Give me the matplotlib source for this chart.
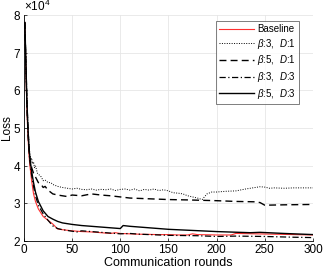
import matplotlib
matplotlib.use('agg')
import matplotlib.pyplot as plt
from matplotlib.ticker import ScalarFormatter

plt.rcParams['font.family'] = ['Liberation Sans', 'DejaVu Sans']
plt.rcParams['mathtext.fontset'] = 'custom'
plt.rcParams['mathtext.it'] = 'Liberation Sans:italic'
plt.rcParams['mathtext.rm'] = 'Liberation Sans'

# loss values in units of 1e4
base_r = [1, 2, 3, 4, 5, 6, 8, 10, 12, 15, 20, 25, 30, 35, 40, 50, 60, 70, 80, 90, 95, 100,
          110, 120, 140, 150, 160, 170, 175, 180, 200, 215, 220, 240, 260, 280, 300]
base_v = [7.8, 6.6, 5.6, 4.9, 4.4, 4.05, 3.6, 3.25, 3.05, 2.85, 2.65, 2.55, 2.45, 2.32, 2.3,
          2.27, 2.25, 2.24, 2.22, 2.2, 2.22, 2.2, 2.19, 2.18, 2.17, 2.17, 2.16, 2.16, 2.19, 2.17,
          2.16, 2.16, 2.2, 2.19, 2.18, 2.17, 2.16]

b3d1_r = [1, 2, 3, 4, 5, 6, 7, 8, 9, 10, 11, 12, 14, 16, 18, 20, 22, 25, 28, 30, 35, 40, 45,
          50, 55, 60, 65, 70, 75, 80, 85, 90, 95, 100, 105, 110, 115, 120, 125, 130, 135, 140,
          145, 150, 155, 160, 165, 170, 175, 180, 185, 190, 195, 200, 210, 220, 230, 240, 245,
          250, 255, 260, 270, 280, 290, 300]
b3d1_v = [7.8, 6.9, 5.9, 5.2, 4.7, 4.35, 4.15, 4.2, 4.05, 4.1, 3.95, 4.0, 3.8, 3.75, 3.7, 3.6,
          3.62, 3.55, 3.55, 3.5, 3.45, 3.42, 3.4, 3.38, 3.4, 3.37, 3.36, 3.38, 3.35, 3.37, 3.36,
          3.38, 3.34, 3.37, 3.38, 3.35, 3.38, 3.33, 3.37, 3.35, 3.38, 3.34, 3.36, 3.33, 3.28,
          3.27, 3.25, 3.2, 3.17, 3.14, 3.1, 3.25, 3.3, 3.3, 3.32, 3.33, 3.38, 3.42, 3.44, 3.43,
          3.4, 3.41, 3.4, 3.41, 3.41, 3.41]

b5d1_r = [1, 2, 3, 4, 5, 6, 8, 10, 12, 15, 18, 20, 22, 25, 30, 35, 40, 45, 50, 60, 70, 80, 90,
          100, 110, 130, 150, 170, 200, 220, 240, 245, 250, 270, 300]
b5d1_v = [7.8, 6.8, 5.8, 5.1, 4.6, 4.25, 3.95, 3.8, 3.7, 3.55, 3.5, 3.42, 3.45, 3.35, 3.25,
          3.22, 3.2, 3.18, 3.22, 3.2, 3.25, 3.22, 3.2, 3.17, 3.14, 3.12, 3.1, 3.09, 3.07, 3.05,
          3.04, 3.02, 2.95, 2.96, 2.97]

b3d3_r = [1, 2, 3, 4, 5, 6, 8, 10, 12, 15, 20, 25, 30, 35, 40, 50, 55, 60, 70, 80, 90, 100,
          110, 120, 150, 180, 200, 220, 250, 280, 300]
b3d3_v = [7.8, 6.7, 5.7, 5.0, 4.5, 4.15, 3.75, 3.45, 3.2, 2.95, 2.72, 2.55, 2.4, 2.33, 2.3,
          2.26, 2.24, 2.27, 2.25, 2.23, 2.21, 2.19, 2.2, 2.18, 2.15, 2.14, 2.12, 2.13, 2.12,
          2.1, 2.09]

b5d3_r = [1, 2, 3, 4, 5, 6, 8, 10, 12, 15, 20, 25, 30, 35, 40, 50, 60, 70, 80, 90, 100, 103,
          110, 130, 150, 175, 200, 235, 245, 270, 300]
b5d3_v = [7.8, 6.8, 5.8, 5.1, 4.6, 4.25, 3.85, 3.55, 3.3, 3.05, 2.8, 2.65, 2.58, 2.52, 2.48,
          2.44, 2.41, 2.39, 2.37, 2.35, 2.33, 2.41, 2.39, 2.35, 2.31, 2.28, 2.25, 2.22, 2.23,
          2.2, 2.17]

labels = ['Baseline', r'$\beta$:3,  $D$:1', r'$\beta$:5,  $D$:1',
          r'$\beta$:3,  $D$:3', r'$\beta$:5,  $D$:3']

fig = plt.figure(figsize=(3.23, 2.72), dpi=100)
ax = fig.add_axes([0.074, 0.114, 0.895, 0.831])

sc = 1e4
ax.plot(base_r, [v * sc for v in base_v], color='#ff3030', lw=0.8, label=labels[0])
ax.plot(b3d1_r, [v * sc for v in b3d1_v], color='k', lw=0.7, ls=(0, (1, 1.5)), label=labels[1])
ax.plot(b5d1_r, [v * sc for v in b5d1_v], color='k', lw=1.0, ls=(0, (5, 3)), label=labels[2])
ax.plot(b3d3_r, [v * sc for v in b3d3_v], color='k', lw=0.9, ls=(0, (5, 2, 1, 2)), label=labels[3])
ax.plot(b5d3_r, [v * sc for v in b5d3_v], color='k', lw=1.0, label=labels[4])

ax.set_xlim(0, 300)
ax.set_ylim(2e4, 8e4)
ax.set_xticks(range(0, 301, 50))
ax.set_yticks([i * 1e4 for i in range(2, 9)])
fmt = ScalarFormatter(useMathText=True)
fmt.set_powerlimits((0, 0))
ax.yaxis.set_major_formatter(fmt)
ax.yaxis.get_offset_text().set_fontsize(8.5)

ax.grid(True, color='#e6e6e6', lw=0.6)
ax.set_axisbelow(True)
ax.tick_params(direction='in', labelsize=8.5, length=2.5, width=0.5, pad=2)
for s in ['top', 'right']:
    ax.spines[s].set_visible(False)
for s in ['left', 'bottom']:
    ax.spines[s].set_linewidth(0.6)

ax.set_xlabel('Communication rounds', fontsize=9, labelpad=1)
ax.set_ylabel('Loss', fontsize=8.5, labelpad=0)

leg = ax.legend(loc='upper right', bbox_to_anchor=(0.952, 0.973), fontsize=7, frameon=True,
                fancybox=False, handlelength=3.6, handletextpad=0.4, borderpad=0.3,
                labelspacing=0.28, borderaxespad=0.0)
leg.get_frame().set_edgecolor('#444444')
leg.get_frame().set_linewidth(0.6)

fig.savefig('out.png', dpi=100)
